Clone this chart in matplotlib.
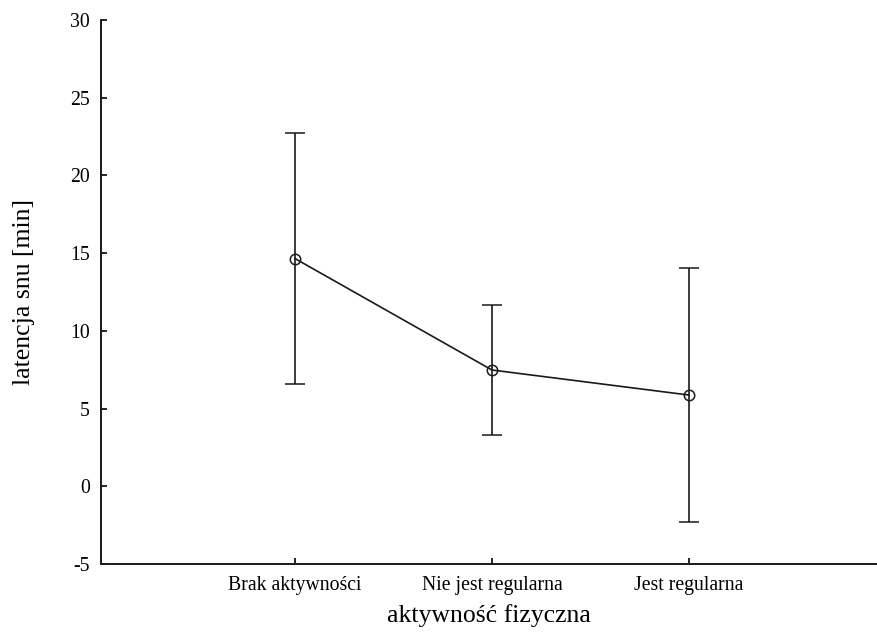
import matplotlib.pyplot as plt

plt.rcParams['font.family'] = ['Liberation Serif', 'DejaVu Serif']
plt.rcParams['axes.unicode_minus'] = False

categories = ['Brak aktywności', 'Nie jest regularna', 'Jest regularna']
means = [14.65, 7.48, 5.87]
errors = [8.1, 4.2, 8.2]

fig = plt.figure(figsize=(8.77, 6.39), dpi=100)
ax = fig.add_axes([0.1152, 0.1174, 0.8848, 0.8513])

x = list(range(len(categories)))
ax.errorbar(x, means, yerr=errors, color='#1a1a1a', linewidth=1.2,
            elinewidth=1.2, capsize=7, capthick=1.2,
            marker='o', markersize=7.5, markerfacecolor='none',
            markeredgecolor='#1a1a1a', markeredgewidth=1.1)

ax.set_xlim(-0.985, 2.955)
ax.set_ylim(-5, 30)
ax.set_yticks(range(-5, 31, 5))
ax.set_xticks(x)
ax.set_xticklabels(categories)

for side in ['top', 'right']:
    ax.spines[side].set_visible(False)
for side in ['left', 'bottom']:
    ax.spines[side].set_linewidth(1.4)
    ax.spines[side].set_color('#1a1a1a')

ax.tick_params(direction='in', length=4, width=1.2, labelsize=14.2)
ax.tick_params(axis='x', pad=8.5)
ax.tick_params(axis='y', pad=8)

ax.set_xlabel('aktywność fizyczna', fontsize=18.5, labelpad=7)
ax.set_ylabel('latencja snu [min]', fontsize=18.5, labelpad=25)

fig.savefig('out.png', dpi=100)
